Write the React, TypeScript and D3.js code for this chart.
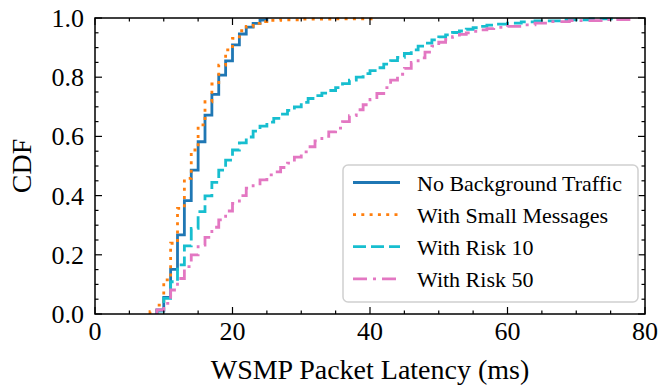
import React from "react";
import * as d3 from "d3";

const W = 662;
const H = 386;
const M = { left: 95, right: 17, top: 18, bottom: 72 };

const xTicks = [0, 20, 40, 60, 80];
const yTicks = [0, 0.2, 0.4, 0.6, 0.8, 1.0];

const seriesNames = ["No Background Traffic", "With Small Messages", "With Risk 10", "With Risk 50"];
const seriesColors = ["#1f77b4", "#ff7f0e", "#17becf", "#e377c2"];
const seriesDash = ["none", "3,5.3", "13,5", "14,6,3,6"];

const noBgLatency = [9, 10, 11, 12, 13, 14, 15, 16, 17, 18, 19, 20, 21, 22, 23, 24, 25];
const noBgCdf = [0.0135, 0.056, 0.151, 0.267, 0.383, 0.486, 0.582, 0.672, 0.742, 0.807, 0.855, 0.909, 0.946, 0.969, 0.982, 0.993, 1.0];

const smallLatency = [8, 9, 10, 11, 12, 13, 14, 15, 16, 17, 18, 19, 20, 21, 22, 23, 24, 25, 27, 30, 35, 41];
const smallCdf = [0.008, 0.03, 0.115, 0.239, 0.357, 0.458, 0.554, 0.639, 0.717, 0.777, 0.841, 0.892, 0.931, 0.957, 0.972, 0.982, 0.988, 0.992, 0.994, 0.996, 0.997, 1.0];

const risk10Latency = [9, 10, 11, 12, 13, 14, 15, 16, 17, 18, 19, 20, 21, 22, 23, 24, 25, 26, 27, 28, 29, 30, 31, 32, 33, 34, 35, 36, 37, 38, 39, 40, 41, 42, 43, 44, 45, 46, 47, 48, 49, 50, 51, 52, 53, 54, 55, 56, 57, 58, 60, 62, 64, 68, 72, 76];
const risk10Cdf = [0.01, 0.053, 0.109, 0.166, 0.23, 0.289, 0.346, 0.399, 0.445, 0.486, 0.52, 0.554, 0.578, 0.598, 0.618, 0.635, 0.648, 0.661, 0.675, 0.688, 0.7, 0.715, 0.728, 0.738, 0.746, 0.755, 0.765, 0.778, 0.79, 0.8, 0.812, 0.822, 0.832, 0.844, 0.856, 0.867, 0.88, 0.892, 0.905, 0.915, 0.926, 0.936, 0.943, 0.951, 0.956, 0.962, 0.967, 0.972, 0.976, 0.979, 0.983, 0.987, 0.99, 0.994, 0.997, 1.0];

const risk50Latency = [9, 10, 11, 12, 13, 14, 15, 16, 17, 18, 19, 20, 21, 22, 23, 24, 25, 26, 27, 28, 29, 30, 31, 32, 33, 34, 35, 36, 37, 38, 39, 40, 41, 42, 43, 44, 45, 46, 47, 48, 49, 50, 51, 52, 53, 54, 55, 56, 57, 58, 60, 62, 64, 66, 69, 74, 78];
const risk50Cdf = [0.0135, 0.036, 0.081, 0.12, 0.16, 0.2, 0.233, 0.259, 0.293, 0.318, 0.348, 0.374, 0.4, 0.425, 0.44, 0.453, 0.47, 0.48, 0.495, 0.51, 0.53, 0.548, 0.565, 0.585, 0.6, 0.615, 0.628, 0.65, 0.67, 0.69, 0.707, 0.725, 0.745, 0.765, 0.79, 0.81, 0.83, 0.85, 0.865, 0.885, 0.905, 0.918, 0.928, 0.937, 0.945, 0.95, 0.955, 0.96, 0.964, 0.968, 0.972, 0.977, 0.983, 0.988, 0.991, 0.995, 1.0];

const latencies = [noBgLatency, smallLatency, risk10Latency, risk50Latency];
const cdfs = [noBgCdf, smallCdf, risk10Cdf, risk50Cdf];

const FONT = '"Liberation Serif", "DejaVu Serif", "Times New Roman", serif';
const txt = { fontFamily: FONT };

export default function App() {
  const x = d3.scaleLinear().domain([0, 80]).range([M.left, W - M.right]);
  const y = d3.scaleLinear().domain([0, 1]).range([H - M.bottom, M.top]);
  const line = d3
    .line<[number, number]>()
    .x((d) => x(d[0]))
    .y((d) => y(d[1]))
    .curve(d3.curveStepAfter);

  const x0 = M.left, x1 = W - M.right, y0 = H - M.bottom, y1 = M.top;
  const xMinor = d3.range(0, 80.01, 5);
  const yMinor = d3.range(0, 1.001, 0.05);
  const major = 7, minor = 3.5;

  const legX = 343, legY = 165, legW = 295, legH = 137;
  const rowY = (i: number) => 182.5 + i * 32.1;

  return (
    <svg width={W} height={H} style={{ position: "absolute", left: 0, top: 0, background: "#fff" }}>
      <defs>
        <clipPath id="plot">
          <rect x={x0} y={y1 - 2} width={x1 - x0} height={y0 - y1 + 4} />
        </clipPath>
      </defs>
      <g clipPath="url(#plot)">
        {latencies.map((lat, si) => {
          const pts: [number, number][] = [[lat[0], 0], ...lat.map((v, i) => [v, cdfs[si][i]] as [number, number])];
          return (
            <path
              key={si}
              d={line(pts) || ""}
              fill="none"
              stroke={seriesColors[si]}
              strokeWidth={2.8}
              strokeDasharray={seriesDash[si]}
              strokeLinejoin="miter"
            />
          );
        })}
      </g>
      <g stroke="#000" strokeWidth={1.2}>
        {xMinor.map((v) => {
          const len = v % 20 === 0 ? major : minor;
          return (
            <g key={"xt" + v}>
              <line x1={x(v)} x2={x(v)} y1={y0} y2={y0 - len} />
              <line x1={x(v)} x2={x(v)} y1={y1} y2={y1 + len} />
            </g>
          );
        })}
        {yMinor.map((v, i) => {
          const len = i % 4 === 0 ? major : minor;
          return (
            <g key={"yt" + i}>
              <line x1={x0} x2={x0 + len} y1={y(v)} y2={y(v)} />
              <line x1={x1} x2={x1 - len} y1={y(v)} y2={y(v)} />
            </g>
          );
        })}
      </g>
      <rect x={x0} y={y1} width={x1 - x0} height={y0 - y1} fill="none" stroke="#000" strokeWidth={1.5} />
      {xTicks.map((v) => (
        <text key={"xl" + v} x={x(v)} y={340} textAnchor="middle" fontSize={26} fill="#000" style={txt}>
          {v}
        </text>
      ))}
      {yTicks.map((v) => (
        <text key={"yl" + v} x={84} y={y(v) + 9} textAnchor="end" fontSize={26} fill="#000" style={txt}>
          {v.toFixed(1)}
        </text>
      ))}
      <text x={(x0 + x1) / 2} y={379} textAnchor="middle" fontSize={28} fill="#000" style={txt}>
        WSMP Packet Latency (ms)
      </text>
      <text transform={`translate(31, ${(y0 + y1) / 2}) rotate(-90)`} textAnchor="middle" fontSize={28} fill="#000" style={txt}>
        CDF
      </text>
      <rect x={legX} y={legY} width={legW} height={legH} rx={5} ry={5} fill="#fff" fillOpacity={0.8} stroke="#d0d0d0" strokeWidth={1.5} />
      {seriesNames.map((name, i) => (
        <g key={name}>
          <line x1={353} x2={400} y1={rowY(i)} y2={rowY(i)} stroke={seriesColors[i]} strokeWidth={2.8} strokeDasharray={seriesDash[i]} />
          <text x={417} y={rowY(i) + 8} fontSize={22} fill="#000" style={txt}>
            {name}
          </text>
        </g>
      ))}
    </svg>
  );
}
